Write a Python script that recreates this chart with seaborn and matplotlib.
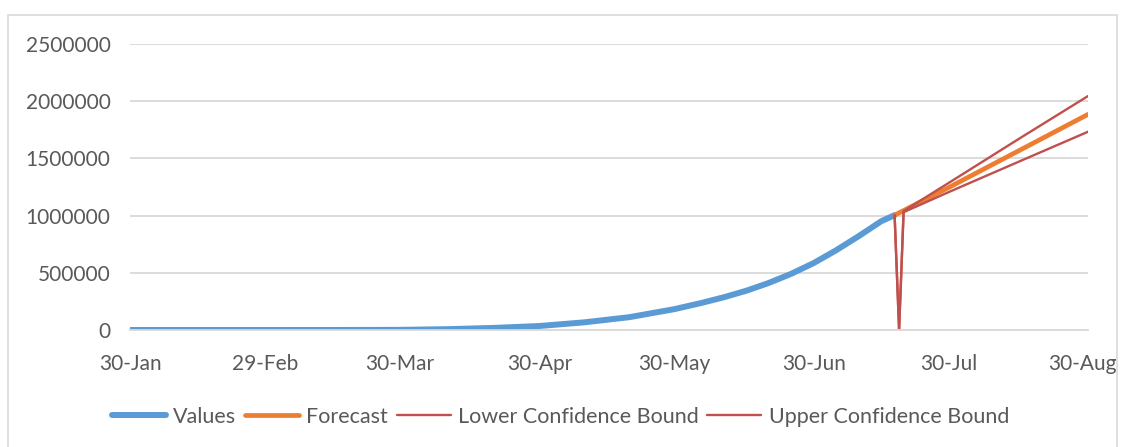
import matplotlib
matplotlib.use("Agg")
import matplotlib.pyplot as plt
import matplotlib.dates as mdates
import matplotlib.transforms as mtransforms
from matplotlib.patches import Rectangle
import numpy as np
import pandas as pd
import seaborn as sns

# actual values (cumulative)
value_dates = ["2020-01-30", "2020-02-29", "2020-03-15", "2020-03-30", "2020-04-10",
               "2020-04-20", "2020-04-30", "2020-05-10", "2020-05-20", "2020-05-30",
               "2020-06-05", "2020-06-10", "2020-06-15", "2020-06-20", "2020-06-25",
               "2020-06-30", "2020-07-05", "2020-07-10", "2020-07-15", "2020-07-18"]
values = [1, 3, 110, 1250, 7600, 18500, 34900, 67000, 112000, 182000,
          236000, 286000, 343000, 411000, 491000, 585000, 697000, 820000, 950000, 1004000]

forecast_dates = ["2020-07-18", "2020-07-30", "2020-08-15", "2020-08-30"]
forecast = [1004000, 1245000, 1575000, 1885000]

bound_dates = ["2020-07-18", "2020-07-19", "2020-07-20", "2020-07-30", "2020-08-15", "2020-08-30"]
lower_bound = [1004000, 0, 1030000, 1205000, 1478000, 1733000]
upper_bound = [1004000, 0, 1040000, 1285000, 1680000, 2045000]

tick_dates = ["2020-01-30", "2020-02-29", "2020-03-30", "2020-04-30",
              "2020-05-30", "2020-06-30", "2020-07-30", "2020-08-30"]

sns.set_theme(style="white")
plt.rcParams["font.family"] = ["Lato", "DejaVu Sans"]
text_col = "#595959"

fig = plt.figure(figsize=(11.21, 4.47), dpi=100)
ax = fig.add_axes([130 / 1121, 1 - 330 / 447, 958 / 1121, 286 / 447])

sns.lineplot(x=pd.to_datetime(value_dates), y=values, ax=ax, color="#5b9bd5",
             linewidth=4.3, label="Values")
sns.lineplot(x=pd.to_datetime(forecast_dates), y=forecast, ax=ax, color="#ed7d31",
             linewidth=3.4, label="Forecast")
sns.lineplot(x=pd.to_datetime(bound_dates), y=lower_bound, ax=ax, color="#c0504d",
             linewidth=1.7, label="Lower Confidence Bound")
sns.lineplot(x=pd.to_datetime(bound_dates), y=upper_bound, ax=ax, color="#c0504d",
             linewidth=1.7, label="Upper Confidence Bound")

ax.set_xlim(pd.Timestamp("2020-01-30"), pd.Timestamp("2020-08-30"))
ax.set_ylim(0, 2500000)
ax.set_yticks(np.arange(0, 2500001, 500000))
ax.set_yticklabels([str(v) for v in range(0, 2500001, 500000)])
ax.set_xticks(pd.to_datetime(tick_dates))
ax.xaxis.set_major_formatter(mdates.DateFormatter("%d-%b"))
ax.yaxis.grid(True, color="#d9d9d9", linewidth=1.3)
ax.xaxis.grid(False)
for s in ["top", "right", "left"]:
    ax.spines[s].set_visible(False)
ax.spines["bottom"].set_color("#d9d9d9")
ax.spines["bottom"].set_linewidth(1.3)
ax.tick_params(axis="both", length=0, labelsize=15, colors=text_col)
ax.tick_params(axis="x", pad=17)
ax.tick_params(axis="y", pad=14)
ax.set_xlabel("")
ax.set_ylabel("")

# last date label sits a little to the left, as in the original
fig.canvas.draw()
last = ax.get_xticklabels()[-1]
last.set_transform(last.get_transform() + mtransforms.ScaledTranslation(-6 / 100, 0, fig.dpi_scale_trans))

ax.legend(loc="center", bbox_to_anchor=(0.5, 1 - 417 / 447), bbox_transform=fig.transFigure,
          ncol=4, frameon=False, fontsize=15.5, labelcolor=text_col, handlelength=2.5,
          handletextpad=0.35, columnspacing=0.4)

fig.patches.append(Rectangle((8 / 1121, -0.01), 1109 / 1121, 1 - 15 / 447 + 0.01,
                             transform=fig.transFigure, fill=False,
                             edgecolor="#d9d9d9", linewidth=1.2))

fig.savefig("out.png", dpi=100)
